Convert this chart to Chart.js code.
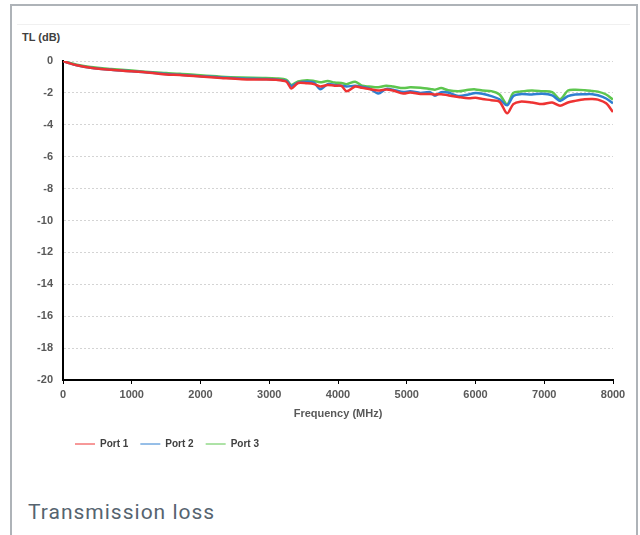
<!DOCTYPE html>
<html lang="en">

<head>
    <meta charset="UTF-8">
    <title>Transmission loss</title>
    <script src="https://cdn.jsdelivr.net/npm/chart.js"></script>
    <style>
        body { margin: 0; background: #fff; width: 640px; height: 535px; overflow: hidden; position: relative; }
        .frame { position: absolute; left: 10px; top: 4px; width: 624px; height: 540px; border: 2px solid #aeb3b8; border-bottom: none; }
        .topline { position: absolute; left: 17px; top: 24px; width: 613px; height: 1px; background: #f0f0f0; }
        .ytitle { position: absolute; left: 22px; top: 31px; font: bold 11px "Liberation Sans", sans-serif; color: #404040; }
        .caption { position: absolute; left: 28px; top: 500px; font: 21px "Roboto", sans-serif; color: #56646f; letter-spacing: 1px; }
        #chartBox { position: absolute; left: 0; top: 0; width: 640px; height: 470px; }
    </style>
</head>

<body>
    <div class="frame"></div>
    <div class="topline"></div>
    <div class="ytitle">TL (dB)</div>
    <div id="chartBox"><canvas id="tlChart"></canvas></div>
    <div class="caption">Transmission loss</div>

<script>
    // frequencia (MHz)
    var freq = [0, 100, 200, 400, 700, 1000, 1300, 1500, 1700, 2000, 2300, 2600, 2900, 3100, 3250, 3320, 3420, 3550,
        3650, 3740, 3850, 3950, 4050, 4125, 4250, 4350, 4450, 4585, 4700, 4800, 4950, 5050, 5200, 5340, 5410, 5500,
        5600, 5750, 5900, 6000, 6100, 6230, 6350, 6460, 6550, 6650, 6820, 6970, 7115, 7230, 7345, 7450, 7590, 7700,
        7780, 7900, 8000];

    var port1 = [0, -0.15, -0.27, -0.42, -0.55, -0.65, -0.75, -0.85, -0.88, -0.97, -1.06, -1.14, -1.16, -1.18, -1.30, -1.72, -1.38, -1.40,
        -1.45, -1.60, -1.50, -1.55, -1.56, -1.90, -1.60, -1.68, -1.75, -1.85, -1.78, -1.85, -2.04, -1.98, -2.07, -2.07, -2.10, -2.08,
        -2.15, -2.25, -2.33, -2.30, -2.38, -2.46, -2.55, -3.28, -2.70, -2.55, -2.60, -2.70, -2.60, -2.80, -2.60, -2.50, -2.40, -2.38,
        -2.42, -2.65, -3.20];

    var port2 = [0, -0.15, -0.27, -0.42, -0.55, -0.64, -0.74, -0.82, -0.86, -0.95, -1.04, -1.10, -1.13, -1.16, -1.25, -1.56, -1.36, -1.30,
        -1.35, -1.77, -1.45, -1.50, -1.55, -1.60, -1.55, -1.62, -1.70, -2.04, -1.75, -1.80, -1.95, -1.90, -2.00, -1.95, -2.18, -1.95,
        -1.98, -2.20, -2.10, -2.00, -2.05, -2.20, -2.40, -2.78, -2.20, -2.08, -2.10, -2.05, -2.15, -2.50, -2.20, -2.10, -2.08, -2.08,
        -2.15, -2.35, -2.65];

    var port3 = [0, -0.12, -0.24, -0.38, -0.50, -0.60, -0.70, -0.76, -0.80, -0.90, -0.98, -1.03, -1.06, -1.09, -1.18, -1.50, -1.28, -1.20,
        -1.25, -1.33, -1.26, -1.35, -1.38, -1.45, -1.30, -1.55, -1.60, -1.65, -1.55, -1.60, -1.70, -1.65, -1.68, -1.75, -1.80, -1.70,
        -1.83, -1.90, -1.80, -1.78, -1.85, -1.89, -2.10, -2.72, -2.00, -1.92, -1.85, -1.90, -1.95, -2.40, -1.85, -1.80, -1.83, -1.88,
        -1.92, -2.10, -2.42];

    var yTicks = [0, -2, -4, -6, -8, -10, -12, -14, -16, -18, -20];

    function pontos(valores) {
        var lista = [];
        for (var i = 0; i < freq.length; i++) {
            lista.push({ x: freq[i], y: valores[i] });
        }
        return lista;
    }

    var fonteEixo = { family: "Liberation Sans", size: 11, weight: "bold" };

    new Chart(document.getElementById("tlChart"), {
        type: "line",
        data: {
            datasets: [
                { label: "Port 1", data: pontos(port1), borderColor: "#ee3333", backgroundColor: "#ee3333" },
                { label: "Port 2", data: pontos(port2), borderColor: "#2f7fd0", backgroundColor: "#2f7fd0" },
                { label: "Port 3", data: pontos(port3), borderColor: "#5dc64e", backgroundColor: "#5dc64e" }
            ]
        },
        options: {
            responsive: true,
            maintainAspectRatio: false,
            animation: false,
            elements: {
                point: { radius: 0 },
                line: { borderWidth: 2.5, tension: 0.3 }
            },
            layout: { padding: { left: 0, right: 27, top: 61, bottom: 11 } },
            plugins: {
                legend: {
                    position: "bottom",
                    align: "start",
                    fullSize: false,
                    labels: {
                        usePointStyle: true,
                        pointStyle: "line",
                        pointStyleWidth: 20,
                        padding: 12,
                        color: "#404040",
                        font: { family: "Liberation Sans", size: 10, weight: "bold" }
                    }
                },
                tooltip: { enabled: false }
            },
            scales: {
                x: {
                    type: "linear",
                    min: 0,
                    max: 8000,
                    ticks: {
                        stepSize: 1000, color: "#595959", font: fonteEixo, padding: 4, maxRotation: 0,
                        callback: function (v) { return String(v); }
                    },
                    grid: { display: true, drawOnChartArea: false, drawTicks: true, tickLength: 4, color: "#000" },
                    border: { color: "#000", width: 2 },
                    title: { display: true, text: "Frequency (MHz)", color: "#595959", font: fonteEixo, padding: { top: 0, bottom: 6 } },
                    afterFit: function (escala) { escala.height = 47; }
                },
                y: {
                    min: -20,
                    max: 0,
                    afterBuildTicks: function (escala) {
                        escala.ticks = yTicks.map(function (v) { return { value: v }; });
                    },
                    ticks: { color: "#595959", font: fonteEixo, padding: 10 },
                    grid: { color: "#d4d4d4", drawTicks: false },
                    border: { color: "#000", width: 2, dash: [2, 2] },
                    afterFit: function (escala) { escala.width = 63; }
                }
            }
        }
    });
</script>
</body>

</html>
